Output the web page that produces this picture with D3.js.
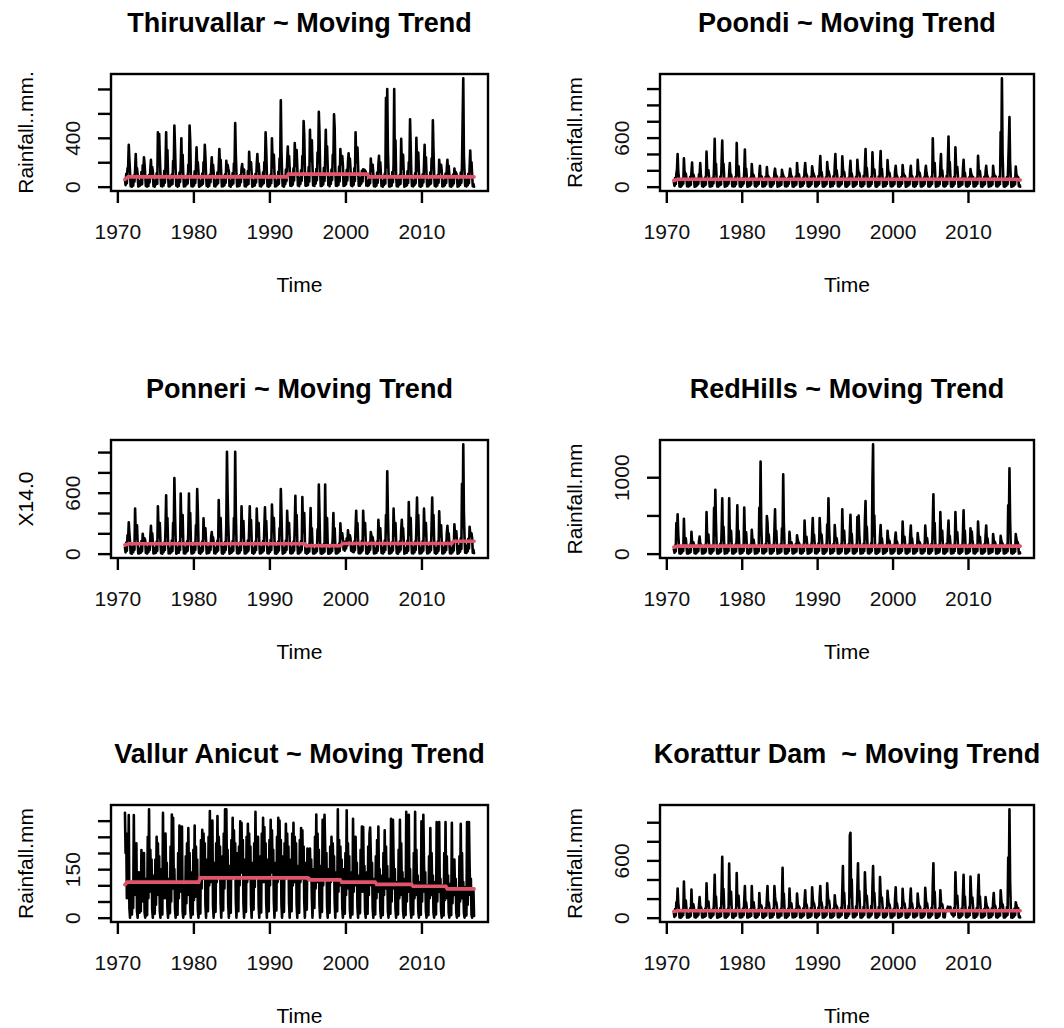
<!DOCTYPE html>
<html>
<head>
<meta charset="utf-8">
<script src="https://cdn.jsdelivr.net/npm/d3@7"></script>
<style>
  body { margin: 0; background: #fff; }
  svg { display: block; font-family: 'Liberation Sans', Arial, sans-serif; }
  text { white-space: pre; }
</style>
</head>
<body>
<svg></svg>
<script>
// monthly rainfall, one row per year 1971..2016 (12 values each, ts order)
let thiruvallar = [
  [55,12,105,28,150,160,342,220,118,4,22,0],[70,8,90,40,130,267,120,150,100,2,30,5],[45,15,120,20,175,110,240,180,90,6,18,1],
  [62,5,95,35,140,220,90,160,125,3,26,0],[50,18,110,25,446,190,430,250,105,5,20,2],[66,9,130,32,160,446,140,300,95,1,28,4],
  [48,14,100,22,210,150,500,320,130,7,15,0],[58,6,115,38,170,397,120,260,110,2,24,3],[52,16,90,27,180,130,500,380,100,4,21,1],
  [64,10,125,30,155,322,160,200,120,0,27,5],[47,13,108,24,200,140,342,240,95,6,19,0],[68,7,98,36,145,240,110,180,115,3,25,2],
  [53,17,118,29,165,308,150,220,100,1,23,4],[60,11,102,33,212,130,180,150,125,5,17,0],[49,15,112,26,190,160,520,260,105,2,29,3],
  [65,8,95,37,150,185,120,140,140,4,22,1],[57,14,128,23,286,170,140,200,110,0,26,5],[51,10,105,34,180,267,130,190,120,6,20,2],
  [63,16,118,28,200,150,446,300,98,3,24,0],[55,9,100,31,397,210,160,260,115,1,27,4],[48,13,122,25,230,160,708,300,105,5,18,1],
  [75,20,140,45,200,328,180,250,150,8,35,6],[80,18,150,50,358,220,170,300,160,10,40,4],[72,22,135,48,250,190,537,420,145,7,32,8],
  [85,15,160,42,465,240,210,380,170,9,38,5],[78,25,145,52,280,200,612,450,155,6,36,7],[82,19,155,46,220,465,190,330,165,11,34,3],
  [74,23,140,55,260,210,592,480,150,8,39,6],[88,17,165,44,308,180,230,250,175,5,33,9],[76,21,138,50,200,273,170,230,148,10,37,4],
  [83,16,150,47,446,230,200,320,160,7,35,8],[70,24,130,43,143,120,138,130,125,9,30,5],[50,12,100,28,231,150,130,180,110,3,22,1],
  [58,9,115,33,180,253,120,200,100,5,26,0],[46,14,105,26,727,160,799,300,120,2,20,3],[62,7,120,36,180,799,140,380,95,4,25,1],
  [54,15,98,24,391,170,150,260,115,0,18,5],[60,11,125,31,200,160,551,330,105,6,28,2],[49,13,110,29,400,190,130,280,125,3,21,0],
  [66,8,102,35,170,342,150,240,100,1,24,4],[52,16,118,27,230,150,543,300,112,5,19,1],[59,10,96,32,220,140,120,180,130,2,27,3],
  [47,12,108,30,150,220,110,170,98,4,23,0],[61,9,100,26,149,100,120,110,90,0,20,5],[50,14,115,33,180,534,887,250,120,6,25,2],
  [57,11,105,29,160,295,130,200,100,3,22,0]
]
let poondi = [
  [58,10,105,30,160,210,399,180,115,3,24,0],[66,14,95,36,346,180,130,160,105,5,20,2],[52,8,120,25,175,296,110,150,125,1,28,4],
  [63,16,100,33,150,140,290,140,98,6,22,0],[55,11,115,28,428,200,150,200,120,2,26,3],[68,9,108,38,250,584,160,280,110,4,19,1],
  [50,15,125,26,300,564,200,280,130,0,27,5],[61,12,98,34,160,290,120,150,105,5,21,2],[57,7,118,29,535,210,140,250,115,3,25,0],
  [64,13,104,35,180,453,150,220,120,1,23,4],[53,10,112,27,276,160,120,140,100,6,18,1],[62,15,96,32,150,255,110,130,118,2,29,3],
  [56,9,122,30,240,140,130,120,108,4,22,0],[65,14,100,37,170,220,150,120,125,0,26,5],[51,11,115,25,205,160,140,110,112,5,20,2],
  [60,8,108,33,150,220,160,120,120,3,24,1],[67,16,125,28,290,180,140,150,105,1,27,4],[54,12,110,36,200,290,170,150,130,6,19,0],
  [63,10,120,31,250,190,160,140,118,2,25,3],[58,15,130,35,220,375,180,180,125,4,28,1],[66,13,115,29,300,200,190,160,120,0,23,5],
  [55,9,128,37,250,399,170,200,135,5,26,2],[62,14,118,32,370,230,160,180,122,3,21,0],[57,11,108,27,200,317,150,160,115,1,24,4],
  [69,16,122,34,329,210,170,170,128,6,27,1],[53,10,132,30,250,461,180,230,120,2,22,3],[64,12,118,36,420,230,190,210,130,4,25,0],
  [59,15,125,28,260,436,170,220,118,0,28,5],[67,9,112,33,325,200,160,170,125,5,20,2],[54,13,105,31,190,255,150,130,110,3,24,1],
  [61,11,118,35,263,180,140,140,122,1,26,4],[56,14,100,27,170,255,130,130,108,6,21,0],[65,8,125,34,329,200,160,170,128,2,25,3],
  [52,12,110,30,180,255,170,130,115,4,23,1],[63,16,120,37,593,260,180,290,125,0,27,5],[58,10,112,29,240,399,150,200,118,5,22,2],
  [66,13,130,33,300,613,200,300,135,3,26,0],[55,11,118,36,481,250,170,240,125,1,24,4],[62,15,105,28,220,329,150,170,112,6,20,1],
  [57,9,115,32,214,160,140,110,120,2,25,3],[64,12,108,35,379,220,160,190,118,4,23,0],[53,14,120,30,180,255,150,130,110,0,27,5],
  [60,10,112,26,255,170,140,130,125,5,21,2],[67,16,125,34,667,300,1325,400,130,3,26,1],[58,11,118,31,250,535,852,300,120,1,24,4],
  [55,13,105,29,247,150,130,120,115,6,22,0]
]
let ponneri = [
  [60,12,110,30,180,140,308,200,120,4,25,0],[68,15,100,38,443,200,150,280,110,2,28,3],[52,9,125,25,196,140,120,150,130,6,20,1],
  [63,14,105,33,160,274,130,200,115,1,26,4],[55,10,118,28,467,220,160,300,125,5,22,0],[66,16,108,36,250,575,180,350,118,3,27,2],
  [50,12,130,27,300,200,744,400,135,0,24,5],[61,8,115,35,592,260,170,380,120,4,21,1],[57,15,122,30,220,592,160,400,128,2,28,3],
  [65,11,110,37,280,200,636,420,118,6,23,0],[54,13,120,29,349,180,150,250,125,1,25,4],[62,9,100,33,160,213,130,160,112,5,20,2],
  [58,16,128,31,528,230,170,350,130,3,27,0],[64,12,115,36,300,1002,592,300,120,0,24,5],[53,14,125,28,350,200,1002,400,128,4,22,1],
  [60,10,112,34,467,220,160,320,118,2,26,3],[67,15,130,30,230,467,180,330,132,6,23,0],[56,11,118,35,443,250,170,300,125,1,28,4],
  [63,13,125,29,260,457,200,320,135,5,21,2],[59,16,135,37,484,300,220,350,140,3,27,0],[66,12,120,32,250,200,636,400,130,0,24,5],
  [54,14,128,36,423,240,200,300,138,4,26,1],[61,10,118,30,280,569,190,380,128,2,22,3],[58,15,125,34,558,260,210,400,132,6,25,0],
  [45,8,90,22,180,450,120,250,95,1,18,2],[42,10,85,25,240,130,680,400,90,3,15,0],[48,7,95,20,680,200,110,350,100,0,20,1],
  [44,9,88,24,170,399,120,250,92,2,16,3],[50,12,100,27,298,180,150,200,140,40,90,30],[120,50,150,80,230,160,140,180,150,30,70,20],
  [62,13,118,33,250,423,180,300,125,5,24,2],[57,11,125,30,423,230,190,300,130,3,27,0],[65,15,110,36,213,180,170,160,122,1,22,4],
  [53,10,120,29,332,210,160,250,118,6,26,1],[60,14,128,35,380,220,812,400,135,2,23,3],[56,12,115,31,443,250,180,300,125,4,28,0],
  [64,16,122,34,230,332,170,250,130,0,21,5],[55,9,130,28,508,240,190,350,128,5,25,1],[62,13,118,37,260,552,200,380,135,3,27,2],
  [58,11,125,30,443,230,180,300,122,1,24,4],[67,15,112,33,280,552,190,380,130,6,22,0],[54,10,120,29,416,220,170,280,125,2,26,3],
  [61,14,108,35,200,274,160,200,118,4,23,1],[57,12,115,31,288,190,170,220,122,0,27,5],[75,20,150,45,687,260,1076,400,160,8,35,6],
  [80,22,145,50,264,200,180,200,155,10,38,4]
]
let redhills = [
  [58,11,105,30,400,200,514,250,118,4,24,0],[66,14,98,36,456,180,140,200,108,2,27,3],[52,9,120,26,286,150,120,150,125,5,20,1],
  [63,15,102,33,160,223,130,120,112,1,25,4],[55,10,115,28,545,200,160,250,120,6,22,0],[67,16,108,37,600,250,836,400,115,3,28,2],
  [50,12,128,27,300,724,180,350,130,0,23,5],[61,8,112,35,724,260,170,300,118,4,26,1],[57,14,120,30,220,634,160,300,125,2,21,3],
  [65,11,108,36,603,230,150,280,120,5,27,0],[53,13,118,29,313,180,140,180,112,1,24,4],[62,10,100,33,600,250,1206,400,118,6,20,2],
  [58,15,125,31,491,410,170,250,128,3,26,0],[64,12,115,36,300,581,180,300,120,0,23,5],[53,14,122,28,330,200,1037,400,125,4,25,1],
  [60,9,110,34,286,170,130,150,115,2,22,3],[67,16,125,30,241,180,150,140,120,6,27,0],[56,11,115,35,433,220,160,220,128,1,24,4],
  [63,13,120,29,260,465,200,250,135,5,21,2],[59,15,132,37,465,280,210,250,140,3,28,0],[66,12,118,32,380,250,724,350,130,0,23,5],
  [54,14,125,36,375,230,190,200,135,4,26,1],[61,10,118,30,581,260,180,300,125,2,22,3],[58,15,122,34,260,509,200,260,130,6,25,0],
  [65,12,115,31,480,240,500,260,128,1,27,4],[56,9,128,35,430,688,200,350,132,5,23,2],[63,14,135,33,947,1430,230,500,140,3,26,0],
  [58,11,118,29,230,375,170,200,125,0,24,5],[64,16,110,36,300,200,160,170,120,4,22,1],[53,10,115,30,190,277,150,160,118,2,27,3],
  [61,13,108,34,420,220,160,220,122,6,21,0],[57,12,120,28,230,366,170,200,115,1,25,4],[65,15,112,35,268,180,150,150,128,5,23,2],
  [52,9,118,31,366,220,170,200,120,3,26,0],[63,14,125,37,420,777,200,400,130,0,22,5],[57,11,115,29,545,260,180,300,125,4,27,1],
  [66,16,128,33,250,433,170,230,132,2,24,3],[55,10,120,36,545,280,190,280,128,6,21,0],[62,13,112,28,280,567,180,300,120,1,26,4],
  [57,12,118,32,331,200,290,180,125,5,23,2],[64,15,108,35,420,240,170,220,118,3,25,0],[53,9,122,30,240,366,160,200,130,0,22,5],
  [60,14,110,26,255,180,150,150,118,4,27,1],[67,11,105,34,232,170,140,130,112,2,24,3],[58,13,118,31,634,300,1117,450,125,6,26,0],
  [55,10,108,29,255,190,150,150,115,1,23,4]
]
let vallur = [
  [324,200,260,60,180,100,317,30,0,40,110,10],[90,30,317,70,190,120,230,20,0,50,140,15],[60,20,209,50,160,90,200,15,0,30,120,8],
  [250,60,335,80,210,120,180,25,0,45,130,12],[180,40,250,70,230,100,190,20,0,60,150,10],[324,70,210,60,260,110,170,30,0,40,120,14],
  [220,50,319,90,309,120,150,25,0,55,110,9],[200,60,285,80,240,130,282,20,0,35,100,11],[190,45,230,70,277,110,200,30,0,50,140,10],
  [210,55,285,65,220,100,180,25,0,45,120,13],[240,90,272,120,260,150,230,40,0,80,180,20],[250,100,330,110,240,140,300,35,0,70,170,18],
  [230,110,314,130,250,160,220,45,0,90,190,22],[260,90,335,120,335,140,210,40,0,60,160,15],[240,120,309,130,270,170,230,50,0,85,200,20],
  [220,100,298,140,293,150,240,45,0,75,180,18],[250,110,290,120,260,160,220,40,0,80,170,25],[230,95,327,130,240,140,250,35,0,70,190,16],
  [260,120,309,110,280,150,230,45,0,90,180,20],[240,100,303,140,270,160,210,50,0,80,170,22],[250,110,309,120,300,150,240,40,0,75,190,18],
  [230,120,290,130,260,170,220,45,0,85,180,20],[260,100,293,110,250,140,230,40,0,70,160,15],[240,110,277,120,270,150,220,50,0,80,170,25],
  [214,120,200,150,214,130,180,60,0,90,150,30],[250,90,319,110,260,130,210,40,0,70,160,18],[303,100,260,318,220,120,200,35,0,60,150,15],
  [220,110,250,120,230,140,190,50,0,80,140,20],[335,80,240,100,220,120,180,30,0,60,150,12],[200,70,332,90,230,110,190,25,0,55,140,10],
  [306,80,220,100,250,120,170,30,0,50,130,14],[210,90,282,80,280,110,160,20,0,60,140,12],[220,70,260,279,200,100,170,30,0,45,120,10],
  [190,60,240,80,282,100,150,25,0,50,130,8],[200,70,270,90,220,110,160,20,0,40,120,12],[306,50,200,303,180,90,150,25,0,45,110,10],
  [210,60,303,70,230,100,140,20,0,40,120,8],[327,50,180,80,318,90,150,25,0,35,100,10],[200,60,327,70,210,90,130,20,0,40,110,9],
  [298,50,180,318,170,80,140,20,0,35,100,8],[190,60,277,70,200,90,130,15,0,40,110,10],[296,50,170,80,296,80,120,20,0,30,100,7],
  [200,55,296,60,190,85,130,15,0,35,105,8],[293,45,160,70,180,80,120,15,0,30,90,6],[190,50,290,60,200,75,110,15,0,30,95,7],
  [296,40,170,296,160,70,120,10,0,25,90,5]
]
let korattur = [
  [45,8,90,22,160,130,306,150,100,3,18,0],[52,11,85,28,378,150,110,180,95,1,21,2],[40,6,98,20,295,120,100,140,105,4,15,1],
  [48,12,82,25,130,216,110,110,92,2,20,3],[43,9,95,21,360,150,120,170,100,5,17,0],[55,13,88,29,200,450,130,220,98,0,22,4],
  [41,7,102,19,300,638,150,300,110,3,16,1],[50,10,92,27,566,200,140,270,102,2,19,0],[46,14,86,23,468,170,130,230,96,4,21,2],
  [53,8,96,26,180,331,120,160,104,1,18,3],[42,11,90,20,331,150,110,160,98,5,16,0],[49,9,84,28,259,140,120,130,106,2,22,1],
  [45,12,100,24,200,331,140,160,110,0,17,4],[51,7,94,30,331,220,160,160,115,3,20,2],[44,13,88,22,200,523,130,250,100,1,18,0],
  [48,10,96,25,306,140,120,150,95,4,21,3],[54,8,90,21,252,150,110,120,102,2,16,1],[43,12,98,27,180,288,130,140,108,0,19,4],
  [50,9,102,24,317,200,150,150,112,5,22,0],[46,14,106,29,220,331,160,160,118,1,17,2],[52,11,110,26,360,230,170,180,120,3,20,1],
  [44,7,95,23,234,150,130,120,105,4,18,3],[49,12,104,28,280,541,160,260,115,0,21,0],[58,16,125,35,860,890,220,400,140,6,28,4],
  [55,14,120,32,300,569,200,280,135,2,25,1],[52,12,115,30,476,280,190,230,130,4,24,3],[56,15,122,34,320,541,210,260,138,1,26,0],
  [50,11,110,29,425,250,180,210,128,5,22,2],[46,9,98,25,281,190,140,140,110,3,19,1],[49,13,94,27,200,317,130,150,104,0,21,4],
  [44,10,100,23,303,180,140,150,108,2,17,0],[51,8,92,28,190,306,120,150,100,4,20,3],[45,12,96,22,252,160,130,120,106,1,18,1],
  [48,9,90,26,313,200,120,150,98,3,22,2],[53,14,104,30,350,569,150,270,112,0,19,0],[42,7,98,24,288,170,130,140,104,5,16,4],
  [60,80,70,90,115,100,110,105,112,60,40,30],[50,13,102,28,476,260,150,230,110,2,21,1],[45,10,96,25,240,450,140,220,106,4,18,3],
  [52,12,108,29,432,250,160,210,115,1,23,0],[47,9,100,26,270,450,150,220,108,3,20,2],[43,11,92,22,216,150,120,110,100,0,17,4],
  [50,8,98,27,170,259,130,130,104,5,21,1],[46,13,94,24,288,190,120,140,102,2,19,3],[55,15,110,32,630,300,1135,400,125,1,24,0],
  [48,10,96,26,162,130,110,80,100,4,18,2]
]

// moving trend: [time, value]
let thiruvallarTrend = [[1971,60],[1971.4,80],[1992.3,80],[1992.5,103],[2002.9,103],[2003.1,80],[2016.92,80]]
let poondiTrend = [[1971,75],[1971.5,90],[2016.4,90],[2016.92,82]]
let ponneriTrend = [[1971,85],[1971.5,98],[1994.6,98],[1994.8,78],[1999.4,78],[1999.6,100],[2014.0,100],[2014.2,122],[2016.92,122]]
let redhillsTrend = [[1971,85],[1971.5,98],[2016.92,98]]
let vallurTrend = [[1971,102],[1971.3,110],[1980.7,110],[1980.9,123],[1995.0,123],[1995.2,117],[1999.3,117],[1999.5,110],
                   [2003.9,110],[2004.1,103],[2008.7,103],[2008.9,97],[2013.2,97],[2013.4,89],[2016.92,89]]
let koratturTrend = [[1971,65],[1971.5,72],[2016.92,72]]

let titles = ['Thiruvallar ~ Moving Trend', 'Poondi ~ Moving Trend', 'Ponneri ~ Moving Trend',
              'RedHills ~ Moving Trend', 'Vallur Anicut ~ Moving Trend', 'Korattur Dam  ~ Moving Trend']
let yTitles = ['Rainfall..mm.', 'Rainfall.mm', 'X14.0', 'Rainfall.mm', 'Rainfall.mm', 'Rainfall.mm']

let xTicks = [1970, 1980, 1990, 2000, 2010]
let yTicks = [[0,200,400,600,800], [0,200,400,600,800,1000,1200], [0,200,400,600,800,1000],
              [0,500,1000], [0,50,100,150,200,250,300], [0,200,400,600,800,1000]]
// R drops the labels that would overlap
let yTickLabels = [[0,400], [0,600], [0,600], [0,1000], [0,150], [0,600]]

let series = [thiruvallar, poondi, ponneri, redhills, vallur, korattur]
let trends = [thiruvallarTrend, poondiTrend, ponneriTrend, redhillsTrend, vallurTrend, koratturTrend]

let width = 1064
let height = 1028
let startYear = 1971

// plot boxes
let cols = [[111, 488], [660, 1034]]
let rows = [[74, 191], [440, 558], [805, 922]]

let svg = d3.select('svg')
svg.attr('width', width).attr('height', height)

// R pads the range by 4% on each side
let rPad = (ext) => {
  let r = ext[1] - ext[0]
  return [ext[0] - 0.04 * r, ext[1] + 0.04 * r]
}

let drawPanel = (i) => {
  let [left, right] = cols[i % 2]
  let [top, bottom] = rows[Math.floor(i / 2)]

  let values = series[i].flat().map((v, k) => ({ t: startYear + k / 12, v: v }))

  let xScale = d3.scaleLinear().domain(rPad(d3.extent(values, d => d.t))).range([left, right])
  let yScale = d3.scaleLinear().domain(rPad(d3.extent(values, d => d.v))).range([bottom, top])

  let g = svg.append('g')

  let line = d3.line().x(d => xScale(d.t)).y(d => yScale(d.v))

  g.append('path')
    .datum(values)
    .attr('d', line)
    .attr('fill', 'none')
    .attr('stroke', '#000')
    .attr('stroke-width', 2.6)
    .attr('stroke-linejoin', 'round')
    .attr('stroke-linecap', 'round')

  g.append('path')
    .datum(trends[i])
    .attr('d', d3.line().x(d => xScale(d[0])).y(d => yScale(d[1])))
    .attr('fill', 'none')
    .attr('stroke', '#DF536B')
    .attr('stroke-width', 3.6)
    .attr('stroke-linecap', 'round')

  // box
  g.append('rect')
    .attr('x', left).attr('y', top)
    .attr('width', right - left).attr('height', bottom - top)
    .attr('fill', 'none').attr('stroke', '#000').attr('stroke-width', 2.4)

  let xAxis = d3.axisBottom(xScale).tickValues(xTicks).tickSize(12).tickFormat(d3.format('d'))
  let xg = g.append('g')
    .attr('transform', 'translate(0,' + bottom + ')')
    .call(xAxis)
  xg.select('.domain').remove()
  xg.selectAll('line').attr('stroke-width', 2.4)
  xg.selectAll('text')
    .attr('y', 48).attr('dy', 0)
    .attr('font-size', 21).attr('fill', '#111').attr('font-family', null)

  let labels = yTickLabels[i]
  let yAxis = d3.axisLeft(yScale).tickValues(yTicks[i]).tickSize(13)
    .tickFormat(d => labels.includes(d) ? d : '')
  let yg = g.append('g')
    .attr('transform', 'translate(' + left + ',0)')
    .call(yAxis)
  yg.select('.domain').remove()
  yg.selectAll('line').attr('stroke-width', 2.4)
  yg.selectAll('text')
    .attr('x', null).attr('dy', null)
    .attr('text-anchor', 'middle')
    .attr('transform', 'translate(-31,0) rotate(-90)')
    .attr('font-size', 21).attr('fill', '#111').attr('font-family', null)

  let cx = (left + right) / 2

  g.append('text')
    .attr('x', cx).attr('y', top - 42)
    .attr('text-anchor', 'middle')
    .attr('font-size', 27).attr('font-weight', 'bold')
    .text(titles[i])

  g.append('text')
    .attr('x', cx).attr('y', bottom + 101)
    .attr('text-anchor', 'middle')
    .attr('font-size', 21)
    .text('Time')

  g.append('text')
    .attr('transform', 'translate(' + (left - 78) + ',' + ((top + bottom) / 2) + ') rotate(-90)')
    .attr('text-anchor', 'middle')
    .attr('font-size', 21)
    .text(yTitles[i])
}

svg.append('rect').attr('width', width).attr('height', height).attr('fill', '#fff')
for (let i = 0; i < 6; i++) drawPanel(i)
</script>
</body>
</html>
